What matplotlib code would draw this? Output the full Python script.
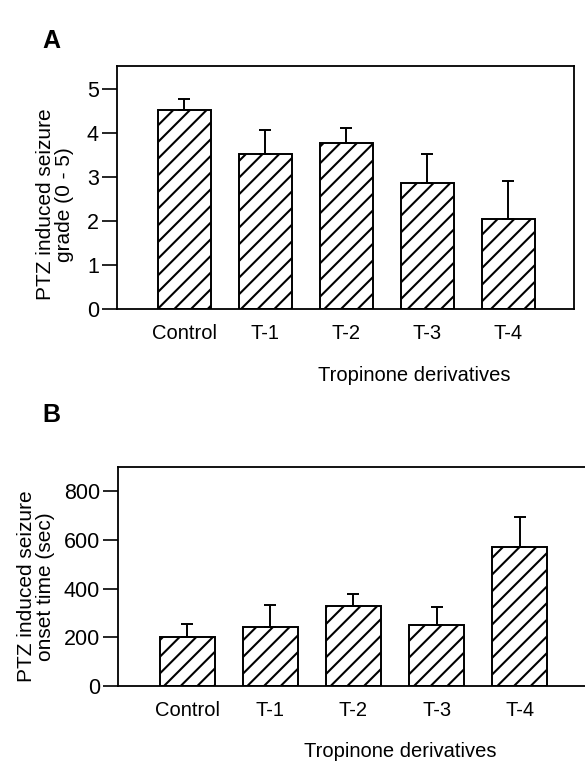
import matplotlib
matplotlib.use("Agg")
import matplotlib.pyplot as plt
import numpy as np

plt.rcParams['font.family'] = ['Liberation Sans', 'DejaVu Sans']
plt.rcParams['hatch.linewidth'] = 1.5

groups = ["Control", "T-1", "T-2", "T-3", "T-4"]

# panel A: seizure grade
grade_mean = [4.51, 3.52, 3.77, 2.87, 2.04]
grade_sem = [0.27, 0.55, 0.35, 0.65, 0.86]

# panel B: seizure onset time (sec)
onset_mean = [200, 241, 330, 252, 573]
onset_sem = [55, 93, 48, 71, 122]

fig = plt.figure(figsize=(5.85, 7.63), dpi=100)


def draw_panel(ax, means, errs, ylim, yticks, ylabel):
    x = np.arange(len(groups))
    ax.bar(x, means, width=0.66, color="white", edgecolor="black",
           linewidth=1.4, hatch="//", zorder=2)
    ax.errorbar(x, means, yerr=[np.zeros(len(errs)), errs], fmt="none",
                ecolor="black", elinewidth=1.4, capsize=4, capthick=1.4,
                zorder=3)
    ax.set_ylim(*ylim)
    ax.set_yticks(yticks)
    ax.set_xticks(x)
    ax.set_xticklabels(groups, fontsize=14.5)
    ax.tick_params(axis="x", length=0, pad=11)
    ax.tick_params(axis="y", length=11, width=1.2, labelsize=15.5, pad=2)
    for s in ax.spines.values():
        s.set_linewidth(1.3)
    ax.set_ylabel(ylabel, fontsize=15, linespacing=1.0)
    ax.set_xlabel("Tropinone derivatives", fontsize=14.5)


axA = fig.add_axes([0.2, 0.595, 0.781, 0.3185])
draw_panel(axA, grade_mean, grade_sem, (0, 5.52), [0, 1, 2, 3, 4, 5],
           "PTZ induced seizure\ngrade (0 - 5)")
axA.set_xlim(-0.83, 4.81)
axA.xaxis.set_label_coords(0.65, -0.235)
axA.yaxis.set_label_coords(-0.094, 0.43)
fig.text(0.072, 0.962, "A", fontsize=18, fontweight="bold", va="top")

axB = fig.add_axes([0.2017, 0.1009, 0.815, 0.287])
draw_panel(axB, onset_mean, onset_sem, (0, 900), [0, 200, 400, 600, 800],
           "PTZ induced seizure\nonset time (sec)")
axB.set_xlim(-0.83, 4.9)
axB.xaxis.set_label_coords(0.591, -0.257)
axB.yaxis.set_label_coords(-0.132, 0.454)
fig.text(0.072, 0.472, "B", fontsize=18, fontweight="bold", va="top")

fig.savefig("out.png", dpi=100)
